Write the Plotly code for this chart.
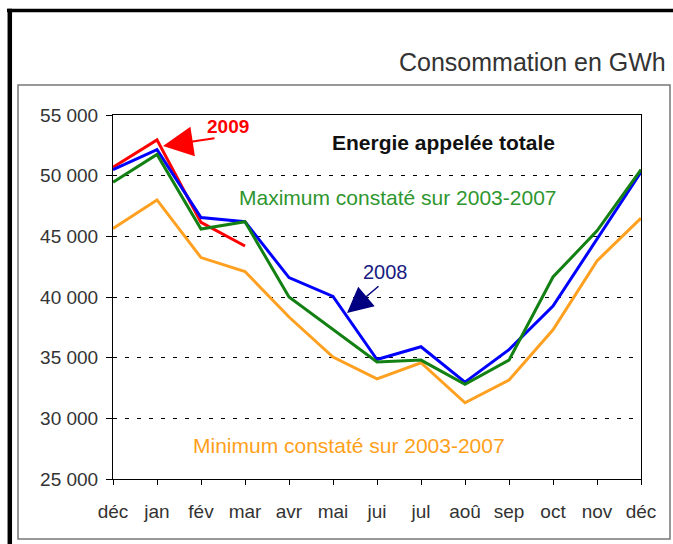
import plotly.graph_objects as go

# ---- data ----
months = ["déc", "jan", "fév", "mar", "avr", "mai", "jui", "jul", "aoû", "sep", "oct", "nov", "déc"]
min_2003_2007 = [45650, 48000, 43250, 42100, 38350, 35050, 33250, 34580, 31280, 33150, 37300, 42980, 46500]
max_2003_2007 = [49450, 51750, 45600, 46200, 40000, 37300, 34650, 34800, 32800, 34800, 41650, 45450, 50500]
conso_2008 = [50500, 52150, 46550, 46200, 41600, 40050, 34850, 35900, 32980, 35660, 39250, 44780, 50300]
conso_2009 = [50700, 52950, 46150, 44200]
y_ticks = [25000, 30000, 35000, 40000, 45000, 50000, 55000]
y_tick_labels = ["25 000", "30 000", "35 000", "40 000", "45 000", "50 000", "55 000"]

# ---- layout geometry (pixels) ----
W, H = 673, 544
L, R, T, B = 113, 641, 115, 479
PW, PH = R - L, B - T


def px(x):
    return (x - L) / PW


def py(y):
    return (B - y) / PH


FONT = "Liberation Sans, Arial, sans-serif"
xs = list(range(len(months)))

fig = go.Figure()
fig.add_trace(go.Scatter(x=xs, y=min_2003_2007, mode="lines",
                         line=dict(color="#FFA020", width=3), name="min"))
fig.add_trace(go.Scatter(x=xs[:len(conso_2009)], y=conso_2009, mode="lines",
                         line=dict(color="#FF0000", width=3), name="2009"))
fig.add_trace(go.Scatter(x=xs, y=conso_2008, mode="lines",
                         line=dict(color="#0000FF", width=3), name="2008"))
fig.add_trace(go.Scatter(x=xs, y=max_2003_2007, mode="lines",
                         line=dict(color="#138013", width=3), name="max"))

fig.update_layout(
    width=W, height=H,
    margin=dict(l=L, r=W - R, t=T, b=H - B, pad=0),
    paper_bgcolor="white", plot_bgcolor="white",
    showlegend=False,
    font=dict(family=FONT, color="#333333"),
)
fig.update_xaxes(
    range=[0, len(months) - 1], tickmode="array", tickvals=xs, ticktext=months,
    showgrid=False, zeroline=False,
    showline=True, linecolor="black", linewidth=1, mirror=True,
    ticks="outside", ticklen=5, tickcolor="black", tickwidth=1,
    tickfont=dict(size=19, color="#333333", family=FONT),
    ticklabelstandoff=10,
)
fig.update_yaxes(
    range=[y_ticks[0], y_ticks[-1]], tickmode="array", tickvals=y_ticks, ticktext=y_tick_labels,
    showgrid=True, gridcolor="black", gridwidth=1, griddash="4px,8px",
    zeroline=False,
    showline=True, linecolor="black", linewidth=1, mirror=True,
    ticks="outside", ticklen=6, tickcolor="black", tickwidth=1,
    tickfont=dict(size=19, color="#333333", family=FONT),
    ticklabelstandoff=4,
)

shapes = [
    # inner grey frame
    dict(type="rect", xref="paper", yref="paper", x0=px(18), x1=px(670), y0=py(539), y1=py(85),
         line=dict(color="#777777", width=1.5), fillcolor="rgba(0,0,0,0)", layer="below"),
    # thick black top & left border
    dict(type="line", xref="paper", yref="paper", x0=px(7), x1=px(680), y0=py(10.5), y1=py(10.5),
         line=dict(color="black", width=3.5)),
    dict(type="line", xref="paper", yref="paper", x0=px(9.8), x1=px(9.8), y0=py(8.8), y1=py(550),
         line=dict(color="black", width=4.5)),
]
fig.update_layout(shapes=shapes)


def text_ann(x, y, text, size, color, bold=False, xanchor="center"):
    return dict(xref="paper", yref="paper", x=px(x), y=py(y), text=f"<b>{text}</b>" if bold else text,
                showarrow=False, xanchor=xanchor, yanchor="middle",
                font=dict(family=FONT, size=size, color=color))


def arrow_ann(x_tail, y_tail, x_head, y_head, color, width, size):
    return dict(xref="paper", yref="paper", x=px(x_head), y=py(y_head), text="",
                showarrow=True, axref="pixel", ayref="pixel",
                ax=x_tail - x_head, ay=y_tail - y_head,
                arrowhead=2, arrowsize=size, arrowwidth=width, arrowcolor=color,
                standoff=0, startstandoff=0)


annotations = [
    text_ann(668, 62, "Consommation en GWh", 25, "#333333", xanchor="right"),
    text_ann(228, 126, "2009", 19, "#FF0000", bold=True),
    arrow_ann(216, 138, 163, 146, "#FF0000", 2, 3.0),
    text_ann(443, 143, "Energie appelée totale", 21, "#111111", bold=True),
    text_ann(398, 197, "Maximum constaté sur 2003-2007", 21, "#2E962E"),
    text_ann(385, 272, "2008", 20, "#1A1A80"),
    arrow_ann(380, 285, 347, 313, "#000080", 1.5, 3.4),
    text_ann(349, 445, "Minimum constaté sur 2003-2007", 21, "#FF9F1A"),
]
fig.update_layout(annotations=annotations)

fig.write_html(
    "out.html",
    config={"displayModeBar": False},
    post_script="document.body.style.margin='0px';document.body.style.overflow='hidden';",
)
